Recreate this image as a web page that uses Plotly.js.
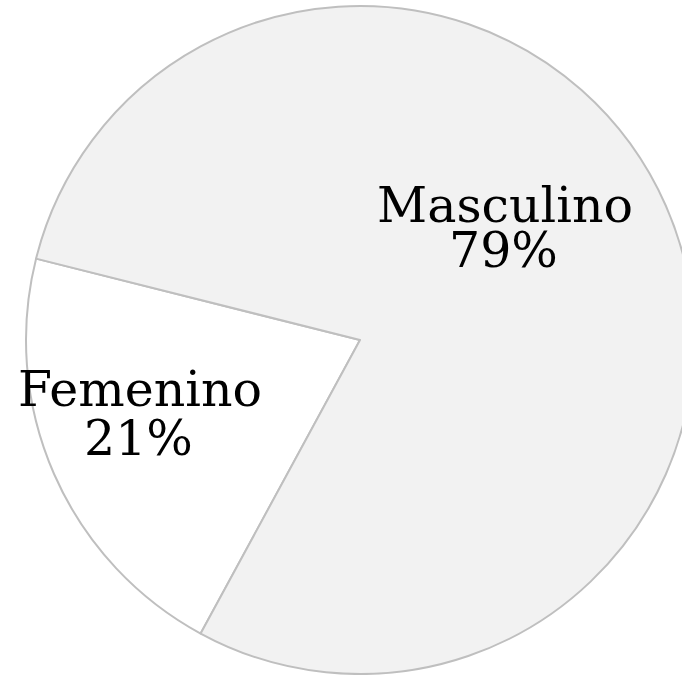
<!DOCTYPE html>
<html>
<head>
<meta charset="utf-8">
<script src="https://cdn.plot.ly/plotly-3.0.1.min.js"></script>
<style>
html, body { margin: 0; padding: 0; background: #ffffff; overflow: hidden; width: 682px; height: 675px; }
#chart { width: 706px; height: 675px; }
</style>
</head>
<body>
<div id="chart"></div>
<script>
// Data
const labels = ['Femenino', 'Masculino'];
const values = [21, 79];
const percentLabels = ['21%', '79%'];
const sliceColors = ['#ffffff', '#f2f2f2'];

const W = 706, H = 675;
const px = x => x / W;
const py = y => 1 - y / H;

// label positions (pixel centres)
const labelPos = [
  { name: [139.5, 389], pct: [138, 438] },
  { name: [505, 205], pct: [503, 250] }
];

const font = { family: 'DejaVu Serif', size: 49, color: '#000000' };
const annotations = [];
labels.forEach((lab, i) => {
  annotations.push({ text: lab, xref: 'paper', yref: 'paper', x: px(labelPos[i].name[0]), y: py(labelPos[i].name[1]), xanchor: 'center', yanchor: 'middle', showarrow: false, font: font });
  annotations.push({ text: percentLabels[i], xref: 'paper', yref: 'paper', x: px(labelPos[i].pct[0]), y: py(labelPos[i].pct[1]), xanchor: 'center', yanchor: 'middle', showarrow: false, font: font });
});

const trace = {
  type: 'pie',
  labels: labels,
  values: values,
  sort: false,
  direction: 'clockwise',
  rotation: 208.5,
  textinfo: 'none',
  hoverinfo: 'none',
  marker: { colors: sliceColors, line: { color: '#bfbfbf', width: 2 } },
  domain: { x: [26 / W, 694 / W], y: [1 / H, 669 / H] },
  showlegend: false
};

Plotly.newPlot('chart', [trace], {
  width: W,
  height: H,
  margin: { l: 0, r: 0, t: 0, b: 0 },
  paper_bgcolor: '#ffffff',
  plot_bgcolor: '#ffffff',
  showlegend: false,
  annotations: annotations
}, { staticPlot: true, displayModeBar: false });
</script>
</body>
</html>
